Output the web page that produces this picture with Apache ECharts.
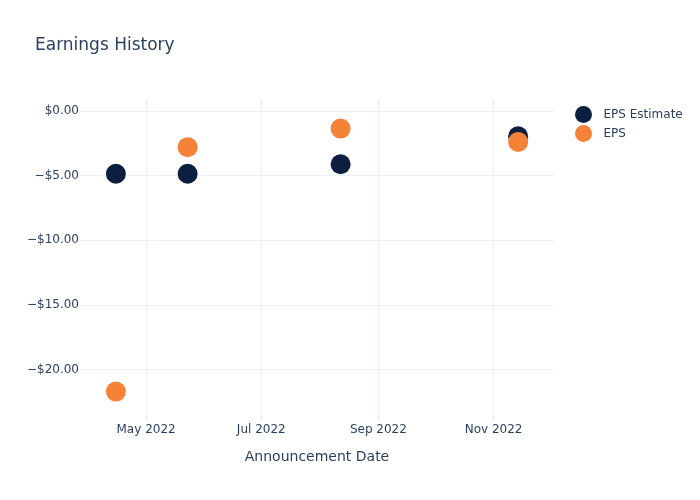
<!DOCTYPE html>
<html>
<head>
<meta charset="utf-8">
<script src="https://cdn.jsdelivr.net/npm/echarts@6/dist/echarts.min.js"></script>
<style>html,body{margin:0;padding:0;background:#fff;}#c{width:700px;height:500px;}</style>
</head>
<body>
<div id="c"></div>
<script>
const dates = ['2022-04-15', '2022-05-23', '2022-08-12', '2022-11-14'];
const epsEstimate = [-4.85, -4.85, -4.12, -1.95];
const eps = [-21.7, -2.8, -1.36, -2.39];
const xTickDates = ['2022-05-01', '2022-07-01', '2022-09-01', '2022-11-01'];
const monthNames = ['Jan','Feb','Mar','Apr','May','Jun','Jul','Aug','Sep','Oct','Nov','Dec'];

function ts(s) { const p = s.split('-').map(Number); return new Date(p[0], p[1]-1, p[2]).getTime(); }
const tickTs = xTickDates.map(ts);
const txt = '#2a3f5f';
const font = '"DejaVu Sans", sans-serif';
const chart = echarts.init(document.getElementById('c'));
chart.setOption({
  animation: false,
  backgroundColor: '#fff',
  title: { text: 'Earnings History', left: 30, top: 32, textStyle: { fontFamily: font, fontSize: 17, fontWeight: 'normal', color: txt } },
  legend: {
    orient: 'vertical', left: 570, top: 101, itemWidth: 30, itemHeight: 17, itemGap: 2, icon: 'circle',
    textStyle: { fontFamily: font, fontSize: 12, color: txt },
    data: ['EPS Estimate', 'EPS']
  },
  grid: { left: 80, right: 146, top: 100, bottom: 80, containLabel: false },
  xAxis: {
    type: 'time',
    min: ts('2022-03-27'), max: ts('2022-12-03'),
    name: 'Announcement Date', nameLocation: 'middle', nameGap: 30,
    nameTextStyle: { fontFamily: font, fontSize: 14, color: txt },
    axisLine: { show: false }, axisTick: { show: false },
    axisLabel: {
      color: txt, fontFamily: font, fontSize: 12, margin: 4,
      showMinLabel: false, showMaxLabel: false, hideOverlap: false,
      formatter: function (v) {
        const t = new Date(v).getTime();
        if (tickTs.indexOf(t) < 0) return '';
        const d = new Date(v);
        return monthNames[d.getMonth()] + ' ' + d.getFullYear();
      }
    },
    splitLine: { show: false }
  },
  yAxis: {
    type: 'value', min: -23.9, max: 0.85, splitNumber: 5,
    axisLine: { show: false }, axisTick: { show: false },
    axisLabel: {
      color: txt, fontFamily: font, fontSize: 12, margin: 1,
      showMinLabel: false, showMaxLabel: false,
      formatter: function (v) { if (Math.abs(v % 5) > 1e-6) return ''; return (v < 0 ? '\u2212$' : '$') + Math.abs(v).toFixed(2); }
    },
    splitLine: { show: true, showMinLine: false, showMaxLine: false, lineStyle: { color: '#ebf0f8', width: 1 } }
  },
  series: [
    { name: 'grid', type: 'line', data: [], z: 1, silent: true,
      markLine: { silent: true, symbol: ['none', 'none'], label: { show: false },
        lineStyle: { color: '#ebf0f8', width: 1, type: 'solid' },
        data: tickTs.map(t => ({ xAxis: t })) } },
    { name: 'EPS Estimate', type: 'scatter', symbolSize: 20, z: 3, itemStyle: { color: '#0c1f40', opacity: 1 },
      data: dates.map((d, i) => [ts(d), epsEstimate[i]]) },
    { name: 'EPS', type: 'scatter', symbolSize: 20, z: 4, itemStyle: { color: '#f58236', opacity: 1 },
      data: dates.map((d, i) => [ts(d), eps[i]]) }
  ]
});
</script>
</body>
</html>
